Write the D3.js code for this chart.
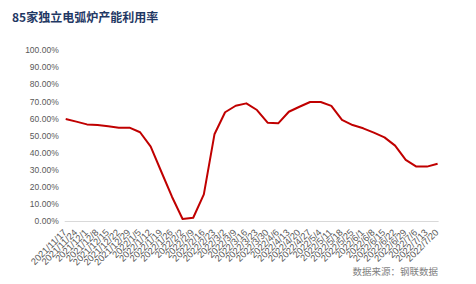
<!DOCTYPE html>
<html>
<head>
<meta charset="utf-8">
<script src="https://cdn.jsdelivr.net/npm/d3@7"></script>
<style>
  body { margin: 0; background: #fff; }
  svg { display: block; }
</style>
</head>
<body>
<svg id="chart" width="476" height="284"></svg>
<script>
var dates = ["2021/11/17", "2021/11/24", "2021/12/1", "2021/12/8", "2021/12/15", "2021/12/22",
  "2021/12/29", "2022/1/5", "2022/1/12", "2022/1/19", "2022/1/26", "2022/2/2", "2022/2/9",
  "2022/2/16", "2022/2/23", "2022/3/2", "2022/3/9", "2022/3/16", "2022/3/23", "2022/3/30",
  "2022/4/6", "2022/4/13", "2022/4/20", "2022/4/27", "2022/5/4", "2022/5/11", "2022/5/18",
  "2022/5/25", "2022/6/1", "2022/6/8", "2022/6/15", "2022/6/22", "2022/6/29", "2022/7/6",
  "2022/7/13", "2022/7/20"];

var rates = [59.6, 58.1, 56.5, 56.1, 55.4, 54.6, 54.6, 51.9, 43.5, 28.8, 14.2, 1.2, 1.9,
  15.6, 50.7, 63.6, 67.4, 68.8, 64.9, 57.5, 57.1, 63.9, 66.8, 69.6, 69.6, 67.3, 59.1,
  56.1, 54.2, 51.7, 48.9, 44.1, 35.7, 31.8, 31.8, 33.5];

var y_ticks = [0, 10, 20, 30, 40, 50, 60, 70, 80, 90, 100];

var title_text = "85家独立电弧炉产能利用率";
var source_text = "数据来源：钢联数据";

window.addEventListener('load', function ()
{
  draw_chart();
});

function draw_chart()
{
  let svg = d3.select('#chart');
  let left = 65.7, right = 437.6, top = 50, bottom = 221;

  let x = d3.scalePoint().domain(dates).range([left, right]);
  let y = d3.scaleLinear().domain([0, 100]).range([bottom, top]);

  // Title
  svg.append("text")
    .attr("x", 12)
    .attr("y", 22)
    .style("font-family", "'Noto Sans CJK SC', sans-serif")
    .style("font-weight", "bold")
    .style("font-size", "12px")
    .style("fill", "#1f3864")
    .text(title_text);

  // Y axis labels
  let y_axis = d3.axisLeft(y)
    .tickValues(y_ticks)
    .tickSize(0)
    .tickPadding(7)
    .tickFormat(function(d){return d3.format(".2f")(d) + "%";});
  let yg = svg.append("g")
    .attr("transform", "translate(" + left + ",0)")
    .call(y_axis);
  yg.select(".domain").remove();
  yg.selectAll("text")
    .style("font-family", "'Liberation Sans', Arial, sans-serif")
    .style("font-size", "8.5px")
    .style("fill", "#595959");

  // X axis
  let x_axis = d3.axisBottom(x).tickSize(0).tickPadding(0);
  let xg = svg.append("g")
    .attr("transform", "translate(0," + bottom + ")")
    .call(x_axis);
  xg.select(".domain")
    .attr("d", "M" + (left - 1) + ",0.5H" + (right + 1))
    .attr("stroke", "#d9d9d9");
  xg.selectAll("text")
    .style("font-family", "'Liberation Sans', Arial, sans-serif")
    .style("font-size", "9.3px")
    .style("fill", "#595959")
    .style("text-anchor", "end")
    .attr("dy", null)
    .attr("y", 0)
    .attr("transform", "translate(1,12) rotate(-45)");

  // Line
  let line = d3.line()
    .x(function(d, i){return x(dates[i]);})
    .y(function(d){return y(d);});
  svg.append("path")
    .datum(rates)
    .attr("d", line)
    .attr("fill", "none")
    .attr("stroke", "#c00000")
    .attr("stroke-width", 2)
    .attr("stroke-linejoin", "round");

  // Source
  svg.append("text")
    .attr("x", 438)
    .attr("y", 275)
    .style("text-anchor", "end")
    .style("font-family", "'Noto Sans CJK SC', sans-serif")
    .style("font-size", "9.5px")
    .style("fill", "#7f7f7f")
    .text(source_text);
}
</script>
</body>
</html>
